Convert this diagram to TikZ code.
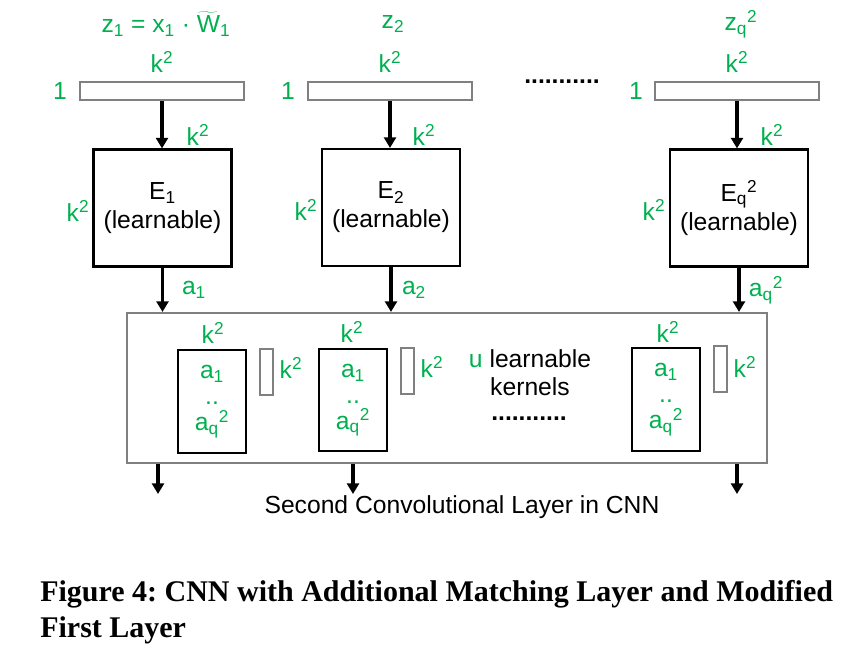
\documentclass[tikz,border=0pt]{standalone}
\usepackage{fontspec}
\setmainfont{Liberation Sans}
\newfontfamily\capfont{Liberation Serif}
\usetikzlibrary{arrows.meta}
\definecolor{grn}{RGB}{0,176,80}
\definecolor{gry}{RGB}{128,128,128}
\begin{document}
\frenchspacing
\begin{tikzpicture}[x=0.75pt,y=-0.75pt,
  every node/.style={inner sep=0pt, font=\fontsize{18.5}{21}\selectfont},
  lbl/.style={text=grn},
  inrect/.style={draw=gry, line width=1.6pt, minimum width=123pt, minimum height=13.5pt},
  ebox/.style={draw=black, line width=1.6pt, minimum width=103.5pt, minimum height=87.75pt, align=center, font=\fontsize{18.5}{21.75}\selectfont},
  bigrect/.style={draw=gry, line width=1.6pt, minimum width=480pt, minimum height=112.5pt},
  kbox/.style={draw=black, line width=1.6pt, minimum width=51pt, minimum height=77pt, align=center, text=grn, font=\fontsize{18.5}{19.5}\selectfont},
  srect/.style={draw=gry, line width=1.6pt, minimum width=9.75pt, minimum height=34.5pt},
  arr/.style={-{Triangle[width=9pt,length=8pt]}, line width=2.5pt},
  dotstxt/.style={font=\bfseries\fontsize{18.5}{21}\selectfont},
  captxt/.style={anchor=base west, font=\capfont\bfseries\fontsize{22.5}{27}\selectfont},
]
\useasboundingbox (0,0) rectangle (850,653);

% top input rectangles
\node[inrect] (r1) at (162,91) {};
\node[inrect] (r2) at (390,91) {};
\node[inrect] (r3) at (737,91) {};
\node[lbl] (one1) at (60,91) {1};
\node[lbl] (one2) at (288,91) {1};
\node[lbl] (one3) at (636,91) {1};
\node[lbl] (kt1) at (162,62) {k\textsuperscript{2}};
\node[lbl] (kt2) at (390,62) {k\textsuperscript{2}};
\node[lbl] (kt3) at (737,62) {k\textsuperscript{2}};
\node[lbl] (z1) at (166,24) {z\textsubscript{1} = x\textsubscript{1} · $\widetilde{\mbox{W}}$\textsubscript{1}};
\node[lbl] (z2) at (393,24) {z\textsubscript{2}};
\node[lbl] (z3) at (741,24) {z\textsubscript{q}\textsuperscript{2}};
\node[dotstxt] (tdots) at (562,82) {...........};

% E boxes
\node[ebox] (e1) at (162.5,208) {E\textsubscript{1}\\(learnable)};
\node[ebox] (e2) at (391,207.5) {E\textsubscript{2}\\(learnable)};
\node[ebox] (e3) at (739,208) {E\textsubscript{q}\textsuperscript{2}\\(learnable)};
\node[lbl] (kl1) at (78,211) {k\textsuperscript{2}};
\node[lbl] (kl2) at (306,210) {k\textsuperscript{2}};
\node[lbl] (kl3) at (654,210) {k\textsuperscript{2}};
\node[lbl] (ka1) at (198,135) {k\textsuperscript{2}};
\node[lbl] (ka2) at (424,135) {k\textsuperscript{2}};
\node[lbl] (ka3) at (772,135) {k\textsuperscript{2}};

\draw[arr] (r1.south) -- (r1.south |- e1.north);
\draw[arr] (r2.south) -- (r2.south |- e2.north);
\draw[arr] (r3.south) -- (r3.south |- e3.north);

% big layer rectangle
\node[bigrect] (big) at (447,388) {};
\draw[arr] (e1.south) -- (e1.south |- big.north);
\draw[arr] (e2.south) -- (e2.south |- big.north);
\draw[arr] (e3.south) -- (e3.south |- big.north);
\node[lbl] (a1) at (194,290) {a\textsubscript{1}};
\node[lbl] (a2) at (414,290) {a\textsubscript{2}};
\node[lbl] (a3) at (766,290) {a\textsubscript{q}\textsuperscript{2}};

% kernels
\node[kbox] (k1) at (212,401.5) {a\textsubscript{1}\\..\\a\textsubscript{q}\textsuperscript{2}};
\node[kbox] (k2) at (353,400) {a\textsubscript{1}\\..\\a\textsubscript{q}\textsuperscript{2}};
\node[kbox] (k3) at (666,399.5) {a\textsubscript{1}\\..\\a\textsubscript{q}\textsuperscript{2}};
\node[srect] (s1) at (266.5,372) {};
\node[srect] (s2) at (407.5,371) {};
\node[srect] (s3) at (720.5,369) {};
\node[lbl] (kk1) at (213,333) {k\textsuperscript{2}};
\node[lbl] (kk2) at (352,332) {k\textsuperscript{2}};
\node[lbl] (kk3) at (668,332) {k\textsuperscript{2}};
\node[lbl] (ks1) at (291,368) {k\textsuperscript{2}};
\node[lbl] (ks2) at (432,367) {k\textsuperscript{2}};
\node[lbl] (ks3) at (745,367) {k\textsuperscript{2}};
\node[align=center, font=\fontsize{18.5}{21}\selectfont] (uk) at (530,373) {\textcolor{grn}{u} learnable\\kernels};
\node[dotstxt] (mdots) at (529,419) {...........};

% outputs
\coordinate (o1) at (158,494);
\coordinate (o2) at (353,494);
\coordinate (o3) at (737,494);
\draw[arr] (o1 |- big.south) -- (o1);
\draw[arr] (o2 |- big.south) -- (o2);
\draw[arr] (o3 |- big.south) -- (o3);
\node (sec) at (462,507) {Second Convolutional Layer in CNN};

% caption
\node[captxt] (cap1) at (40,601) {Figure 4: CNN with Additional Matching Layer and Modified};
\node[captxt] (cap2) at (40,637) {First Layer};
\end{tikzpicture}
\end{document}
